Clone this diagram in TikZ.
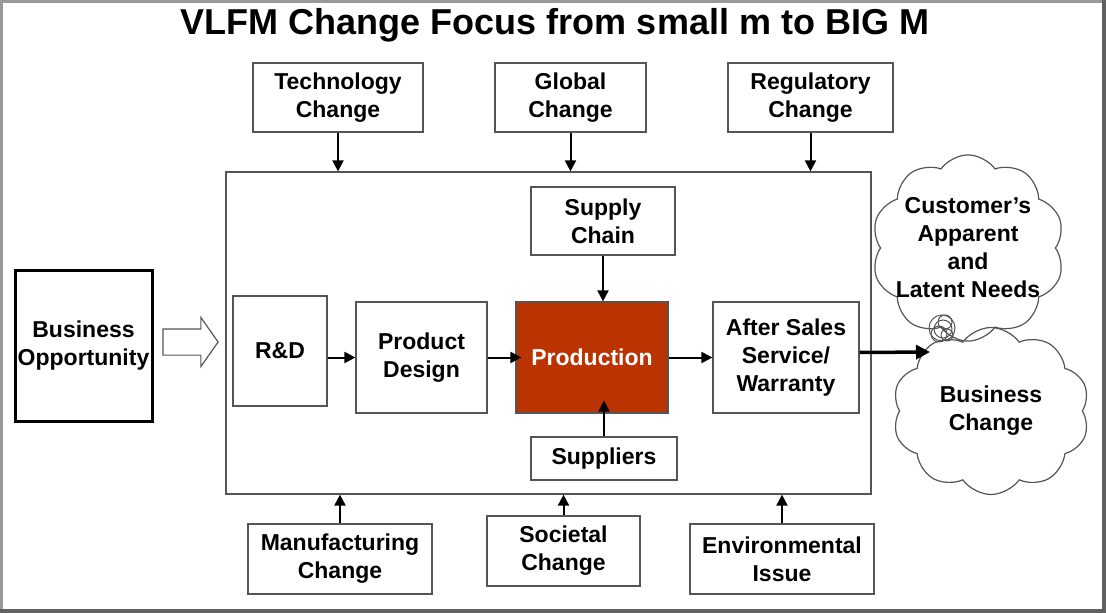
\documentclass[tikz,border=0pt]{standalone}
\usepackage{fontspec}
\setmainfont{Liberation Sans}
\usepackage{tikz}
\usetikzlibrary{arrows.meta, positioning, shapes.symbols, shapes.arrows}

\definecolor{prodred}{RGB}{187,51,0}
\definecolor{edgegray}{RGB}{85,85,85}

\begin{document}
\begin{tikzpicture}[x=1pt, y=-1pt, >={Triangle[length=11pt,width=11pt]},
    every node/.style={font=\fontsize{23}{28}\selectfont\bfseries, align=center, inner sep=0pt},
    box/.style={rectangle, draw=edgegray, line width=1.2pt, fill=white},
    flow/.style={->, line width=2pt},
    puff/.style={cloud, draw=edgegray, line width=1.2pt, cloud puffs=10, cloud puff arc=110}]
    \useasboundingbox (0,0) rectangle (1106,613);
    % Outer frame
    \draw[line width=3pt, black!40] (1.5,1.5) rectangle (1104.5,611.5);
    \draw[line width=4pt, black!62] (1104,0) -- (1104,611) -- (0,611);

    % Title
    \node[font=\fontsize{36}{40}\selectfont\bfseries] (title) at (555,25) {VLFM Change Focus from small m to BIG M};

    % Outside forces (top)
    \node[box, minimum width=170, minimum height=69] (tech) at (338,97.5) {Technology\\Change};
    \node[box, minimum width=151, minimum height=69] (global) at (570.5,97.5) {Global\\Change};
    \node[box, minimum width=165, minimum height=69] (regul) at (810.5,97.5) {Regulatory\\Change};

    % Enterprise frame
    \node[box, minimum width=645, minimum height=322] (core) at (548.5,333) {};

    % Value chain
    \node[box, minimum width=144, minimum height=68] (supply) at (603,221) {Supply\\Chain};
    \node[box, minimum width=94, minimum height=110] (rd) at (280,351) {R\&D};
    \node[box, minimum width=131, minimum height=111] (design) at (421.5,357.5) {Product\\Design};
    \node[box, fill=prodred, text=white, minimum width=152, minimum height=111] (prod) at (592,357.5) {Production};
    \node[box, minimum width=146, minimum height=111] (after) at (786,357.5) {After Sales\\Service/\\Warranty};
    \node[box, minimum width=146, minimum height=43] (suppliers) at (604,458.5) {Suppliers};

    % Outside forces (bottom)
    \node[box, minimum width=184, minimum height=70] (manuf) at (340,559) {Manufacturing\\Change};
    \node[box, minimum width=153, minimum height=70] (societal) at (563.5,551) {Societal\\Change};
    \node[box, minimum width=184, minimum height=70] (environ) at (782,559) {Environmental\\Issue};

    % Business opportunity input
    \node[rectangle, draw=black, line width=3pt, minimum width=137, minimum height=151] (opport) at (83.5,345.5) {Business\\Opportunity};
    \node[single arrow, draw=edgegray, line width=1.2pt, minimum width=48, minimum height=55,
          inner sep=12.5pt, single arrow head extend=11.5pt, single arrow tip angle=110] (oppArrow) at (186,342) {};

    % Clouds
    \node[puff, inner xsep=-13pt, inner ysep=-15pt, minimum width=193, minimum height=183] (needs) at (968,248)
        {Customer's\\Apparent\\and\\Latent Needs};
    \node[puff, minimum width=197, minimum height=167] (bizchg) at (991,411) {Business\\Change};
    \coordinate (swirl) at (930,352);
    \foreach \cx/\cy/\r in {942/328/13, 945/322/7, 939/334/8, 947/335/6, 943/329/9}
        \draw[edgegray, line width=1pt] (\cx,\cy) circle (\r);

    % Connectors
    \draw[flow] (tech.south) -- (tech.south |- core.north);
    \draw[flow] (global.south) -- (global.south |- core.north);
    \draw[flow] (regul.south) -- (regul.south |- core.north);
    \draw[flow] (manuf.north) -- (manuf.north |- core.south);
    \draw[flow] (societal.north) -- (societal.north |- core.south);
    \draw[flow] (environ.north) -- (environ.north |- core.south);

    \draw[flow] (supply.south) -- (supply.south |- prod.north);
    \draw[flow, shorten >=-13pt] (suppliers.north) -- (suppliers.north |- prod.south);
    \draw[flow] (rd.east |- design.west) -- (design.west);
    \draw[flow, shorten >=-6pt] (design.east) -- (prod.west);
    \draw[flow] (prod.east) -- (after.west);
    \draw[->, >={Triangle[length=14pt,width=14pt]}, line width=3.5pt] ([yshift=5pt]after.east) -- (swirl);
\end{tikzpicture}
\end{document}
